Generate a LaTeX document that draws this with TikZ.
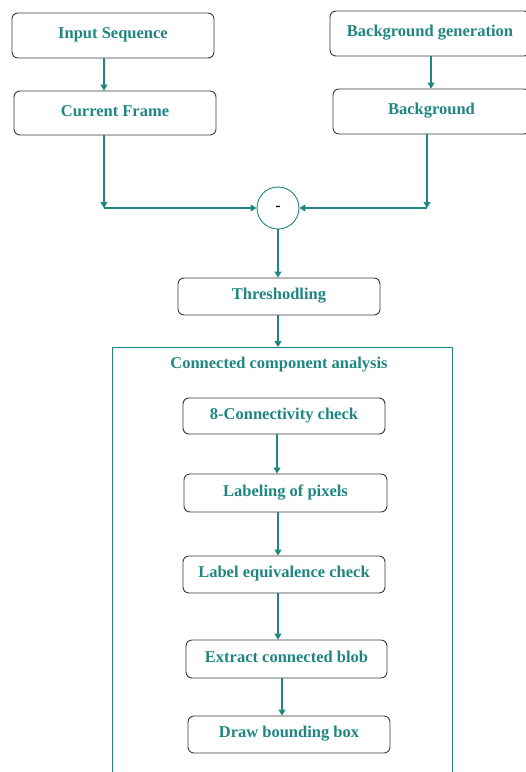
\documentclass[tikz,border=0pt]{standalone}
\usepackage{fontspec}
\setmainfont{Liberation Serif}
\usetikzlibrary{arrows.meta,positioning,calc}
\definecolor{cctealink}{HTML}{1F8682}
\definecolor{ccbox}{HTML}{3A3A3A}

\begin{document}
\begin{tikzpicture}[x=1pt,y=-1pt,
    stepbox/.style={draw=ccbox,line width=0.9pt,rounded corners=6pt,fill=white,
      text=cctealink,font=\fontsize{16.5}{19}\selectfont\bfseries,inner sep=0pt,
      text height=11pt,text depth=5pt},
    flow/.style={draw=cctealink,line width=1.1pt,-{Triangle[length=6pt,width=7pt]}}]
  \useasboundingbox (0,0) rectangle (526,772);

  % upper part
  \node[stepbox,minimum width=202pt,minimum height=45pt] (inseq) at (113,35.5) {Input Sequence};
  \node[stepbox,minimum width=202pt,minimum height=44pt] (curframe) at (115,113) {Current Frame};
  \node[stepbox,minimum width=200pt,minimum height=45pt] (bggen) at (430,33.5) {Background generation};
  \node[stepbox,minimum width=197pt,minimum height=45pt] (bg) at (431.5,111.5) {Background};
  \node[circle,draw=cctealink,line width=0.9pt,minimum size=42pt,inner sep=0pt,
    font=\fontsize{15}{18}\selectfont\bfseries] (diff) at (278,208) {\raisebox{-2pt}{-}};

  \draw[flow] (inseq.south -| 104,0) -- (curframe.north -| 104,0);
  \draw[flow] (bggen.south -| 431,0) -- (bg.north -| 431,0);

  \coordinate (cfturn) at (104,0 |- diff.west);
  \coordinate (bgturn) at (427,0 |- diff.east);
  \draw[flow] (curframe.south -| cfturn) -- (cfturn);
  \draw[flow] (cfturn) -- (diff.west);
  \draw[flow] (bg.south -| bgturn) -- (bgturn);
  \draw[flow] (bgturn) -- (diff.east);

  \node[stepbox,minimum width=202pt,minimum height=37pt] (thresh) at (279,296.5) {Threshodling};
  \draw[flow] (diff.south) -- (thresh.north -| diff.south);

  % connected component analysis
  \draw[draw=cctealink,line width=0.9pt] (112,790) -- (112,347) coordinate (ccatop) -- (452,347) -- (452,790);
  \node[text=cctealink,font=\fontsize{16.5}{19}\selectfont\bfseries] (ccalabel) at (279,364.5) {Connected component analysis};
  \draw[flow] (thresh.south -| 278,0) -- (278,347);

  \node[stepbox,minimum width=202pt,minimum height=36pt] (conncheck) at (284,416) {8-Connectivity check};
  \node[stepbox,minimum width=203pt,minimum height=38pt] (labeling) at (285.5,493) {Labeling of pixels};
  \node[stepbox,minimum width=202pt,minimum height=37pt] (equiv) at (284,574.5) {Label equivalence check};
  \node[stepbox,minimum width=201pt,minimum height=38pt] (blob) at (286.5,659) {Extract connected blob};
  \node[stepbox,minimum width=202pt,minimum height=37pt] (bbox) at (289,734.5) {Draw bounding box};

  \draw[flow] (conncheck.south -| 277,0) -- (labeling.north -| 277,0);
  \draw[flow] (labeling.south -| 278,0) -- (equiv.north -| 278,0);
  \draw[flow] (equiv.south -| 278,0) -- (blob.north -| 278,0);
  \draw[flow] (blob.south -| 282,0) -- (bbox.north -| 282,0);
\end{tikzpicture}
\end{document}
